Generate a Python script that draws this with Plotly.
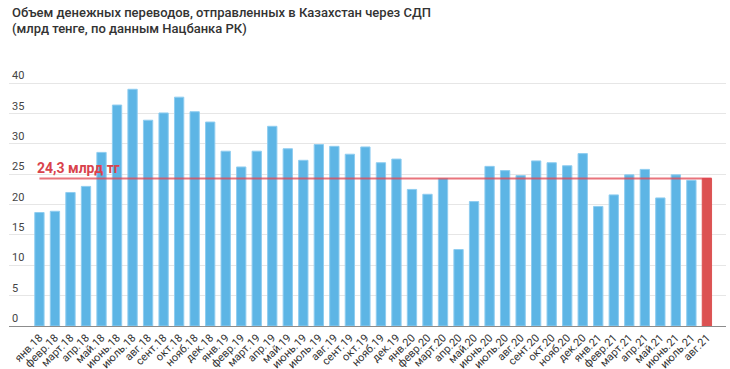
import plotly.graph_objects as go

months = ["янв.18", "февр.18", "март.18", "апр.18", "май.18", "июнь.18", "июль.18", "авг.18",
          "сент.18", "окт.18", "нояб.18", "дек.18",
          "янв.19", "февр.19", "март.19", "апр.19", "май.19", "июнь.19", "июль.19", "авг.19",
          "сент.19", "окт.19", "нояб.19", "дек.19",
          "янв.20", "февр.20", "март.20", "апр.20", "май.20", "июнь.20", "июль.20", "авг.20",
          "сент.20", "окт.20", "нояб.20", "дек.20",
          "янв.21", "февр.21", "март.21", "апр.21", "май.21", "июнь.21", "июль.21", "авг.21"]
values = [18.7, 18.9, 22.0, 23.0, 28.6, 36.4, 39.0, 33.9,
          35.1, 37.7, 35.3, 33.6,
          28.8, 26.2, 28.8, 32.9, 29.2, 27.3, 29.9, 29.6,
          28.3, 29.5, 26.9, 27.5,
          22.5, 21.7, 24.3, 12.6, 20.5, 26.3, 25.6, 24.8,
          27.2, 26.9, 26.4, 28.4,
          19.7, 21.6, 24.9, 25.8, 21.1, 24.9, 24.0, 24.3]
reference_value = 24.3
reference_label = "24,3 млрд тг"
title_line1 = "Объем денежных переводов, отправленных в Казахстан через СДП"
title_line2 = "(млрд тенге, по данным Нацбанка РК)"

blue = "#5db5e5"
red = "#dc5252"
colors = [blue] * (len(values) - 1) + [red]
edge = ["#8fcdf0"] * (len(values) - 1) + [red]

fig = go.Figure()
fig.add_trace(go.Bar(
    x=list(range(len(months))), y=values,
    marker=dict(color=colors, line=dict(color=edge, width=1)),
    width=0.6, hoverinfo="skip",
))
fig.add_trace(go.Scatter(
    x=[0, len(months) - 1 + 0.3], y=[reference_value, reference_value],
    mode="lines", line=dict(color="rgba(225,70,80,0.75)", width=2),
    hoverinfo="skip",
))
fig.add_annotation(
    x=-0.3, y=reference_value, xref="x", yref="y",
    text="<b>" + reference_label + "</b>", showarrow=False,
    xanchor="left", yanchor="bottom", yshift=1,
    font=dict(family="Roboto", size=14, color="#d9434c"),
)
for txt, shift in [(title_line1, 53), (title_line2, 37)]:
    fig.add_annotation(
        x=1 / 717, y=1, xref="paper", yref="paper", text=txt, showarrow=False,
        xanchor="left", yanchor="middle", yshift=shift,
        font=dict(family="Roboto", size=13, color="#333333", weight=500),
    )

fig.update_layout(
    width=730, height=369,
    margin=dict(l=9, r=4, t=65, b=43),
    plot_bgcolor="white", paper_bgcolor="white",
    showlegend=False, hovermode=False,
    font=dict(family="Roboto", size=11, color="#333333"),
    xaxis=dict(
        tickmode="array", tickvals=list(range(len(months))), ticktext=months,
        tickangle=-45, range=[-1.96, 44.23], automargin=False,
        showgrid=False, showline=True, linecolor="#8c8c8c", linewidth=1,
        ticks="", tickfont=dict(size=11, color="#333333"), fixedrange=True,
    ),
    yaxis=dict(
        range=[0, 43], tickmode="array", tickvals=list(range(0, 41, 5)),
        ticklabelposition="inside top", showgrid=True, gridcolor="#e6e6e6",
        gridwidth=1, zeroline=False, ticks="", automargin=False,
        tickfont=dict(size=11, color="#444444"), fixedrange=True,
    ),
)

fig.write_html("out.html", config={"displayModeBar": False, "staticPlot": True},
               post_script="document.body.style.margin='0px';")
